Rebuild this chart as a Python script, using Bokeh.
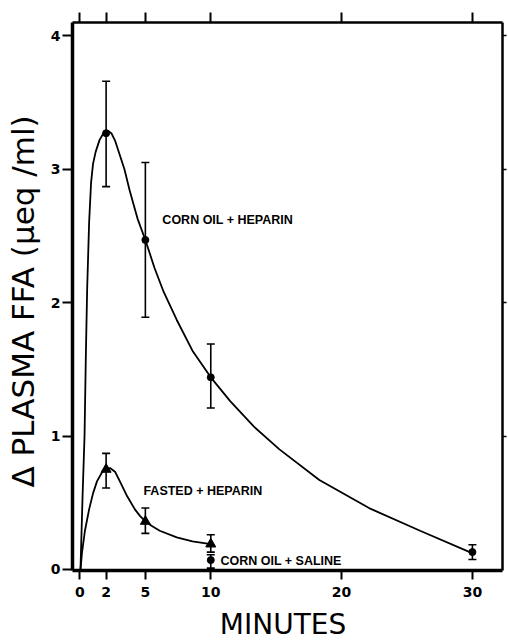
from bokeh.plotting import figure
from bokeh.models import (ColumnDataSource, Whisker, TeeHead, LinearAxis,
                          FixedTicker, Range1d)
from bokeh.embed import file_html
from bokeh.resources import INLINE
from bokeh.core.properties import value

# ---- data ----
minute_ticks = [0, 2, 5, 10, 20, 30]
ffa_ticks = [0, 1, 2, 3, 4]
right_ticks = [1, 2, 3, 4]

# Corn oil + heparin (mean, SE range)
corn_hep_t = [2, 5, 10, 30]
corn_hep_mean = [3.27, 2.47, 1.44, 0.13]
corn_hep_lo = [2.87, 1.89, 1.21, 0.075]
corn_hep_hi = [3.66, 3.05, 1.69, 0.185]

# Fasted + heparin
fasted_t = [2, 5, 10]
fasted_mean = [0.75, 0.36, 0.19]
fasted_lo = [0.61, 0.27, 0.13]
fasted_hi = [0.87, 0.46, 0.26]

# Corn oil + saline
saline_t = [10]
saline_mean = [0.07]
saline_lo = [0.01]
saline_hi = [0.11]

# hand-drawn fitted curves
corn_curve_t = [0.04, 0.2, 0.35, 0.45, 0.55, 0.7, 0.85, 1.0, 1.2, 1.5, 1.8, 2.1,
                2.4, 2.7, 3.0, 3.4, 3.8, 4.4, 5.0, 5.7, 6.4, 7.4, 8.6, 10.0,
                11.5, 13.3, 15.25, 18.3, 22.1, 26.0, 29.8]
corn_curve_v = [0.0, 0.55, 1.0, 1.6, 2.1, 2.6, 2.9, 3.04, 3.13, 3.22, 3.27, 3.29,
                3.27, 3.21, 3.12, 3.0, 2.84, 2.63, 2.47, 2.26, 2.08, 1.87, 1.64, 1.44,
                1.26, 1.07, 0.9, 0.67, 0.46, 0.29, 0.13]

fasted_curve_t = [0.04, 0.15, 0.38, 0.7, 1.0, 1.3, 1.7, 2.0, 2.3, 2.7, 3.1, 3.6,
                  4.2, 4.6, 5.0, 5.5, 6.1, 7.4, 8.6, 10.0]
fasted_curve_v = [0.0, 0.12, 0.29, 0.45, 0.57, 0.66, 0.73, 0.755, 0.76, 0.73, 0.65, 0.55,
                  0.45, 0.40, 0.36, 0.325, 0.29, 0.24, 0.21, 0.19]

label_text = ["CORN OIL + HEPARIN", "FASTED + HEPARIN", "CORN OIL + SALINE"]
label_x = [6.3, 4.85, 10.74]
label_y = [2.62, 0.59, 0.06]

FONT = "DejaVu Sans"

p = figure(width=508, height=644,
           x_range=Range1d(-0.57, 32.3), y_range=Range1d(-0.008, 4.1),
           output_backend="svg", toolbar_location=None,
           min_border_left=72, min_border_top=22, min_border_right=6,
           min_border_bottom=74)
p.outline_line_color = None
p.xgrid.visible = False
p.ygrid.visible = False
p.background_fill_color = "white"

# bottom axis
xa = p.xaxis[0]
xa.ticker = FixedTicker(ticks=minute_ticks)
xa.axis_line_width = 3.5
xa.major_tick_line_width = 2
xa.major_tick_out = 9
xa.major_tick_in = 0
xa.minor_tick_line_color = None
xa.major_label_standoff = 7
xa.major_label_text_font = FONT
xa.major_label_text_font_size = "14px"
xa.major_label_text_font_style = "bold"
xa.major_label_text_color = "black"
xa.axis_label = " MINUTES"
xa.axis_label_text_font = FONT
xa.axis_label_text_font_size = "28px"
xa.axis_label_text_font_style = "normal"
xa.axis_label_text_color = "black"
xa.axis_label_standoff = 8

# left axis
ya = p.yaxis[0]
ya.ticker = FixedTicker(ticks=ffa_ticks)
ya.axis_line_width = 3.5
ya.major_tick_line_width = 2
ya.major_tick_out = 10
ya.major_tick_in = 0
ya.minor_tick_line_color = None
ya.major_label_standoff = 2
ya.major_label_text_font = FONT
ya.major_label_text_font_size = "14px"
ya.major_label_text_font_style = "bold"
ya.major_label_text_color = "black"
ya.axis_label = " \u0394 PLASMA FFA (\u03bceq /ml)"
ya.axis_label_text_font = FONT
ya.axis_label_text_font_size = "31px"
ya.axis_label_text_font_style = "normal"
ya.axis_label_text_color = "black"
ya.axis_label_standoff = 7

# top axis (ticks only)
top = LinearAxis(ticker=FixedTicker(ticks=minute_ticks), axis_line_width=2.5,
                 major_tick_out=10, major_tick_in=0, major_tick_line_width=2,
                 minor_tick_line_color=None, major_label_text_font_size="0px",
                 major_label_text_alpha=0, major_label_standoff=0)
p.add_layout(top, "above")

# right axis (ticks only)
right = LinearAxis(ticker=FixedTicker(ticks=right_ticks), axis_line_width=2.5,
                   major_tick_out=4, major_tick_in=0, major_tick_line_width=1.5,
                   minor_tick_line_color=None, major_label_text_font_size="0px",
                   major_label_text_alpha=0, major_label_standoff=0)
p.add_layout(right, "right")

# curves
p.line(corn_curve_t, corn_curve_v, line_color="black", line_width=1.8)
p.line(fasted_curve_t, fasted_curve_v, line_color="black", line_width=1.8)

# error bars
def add_err(t, lo, hi):
    src = ColumnDataSource(dict(t=t, lo=lo, hi=hi))
    w = Whisker(base="t", lower="lo", upper="hi", source=src,
                line_color="black", line_width=1.6,
                upper_head=TeeHead(size=8, line_width=1.6, line_color="black"),
                lower_head=TeeHead(size=8, line_width=1.6, line_color="black"))
    p.add_layout(w)

add_err(corn_hep_t, corn_hep_lo, corn_hep_hi)
add_err(fasted_t, fasted_lo, fasted_hi)
add_err(saline_t, saline_lo, saline_hi)

# markers
p.scatter(corn_hep_t, corn_hep_mean, marker="circle", size=7, color="black")
p.scatter(fasted_t, fasted_mean, marker="triangle", size=10, color="black")
p.scatter(saline_t, saline_mean, marker="circle", size=7, color="black")

# in-plot labels
p.text(x=label_x, y=label_y, text=label_text, text_font=value("Liberation Sans"),
       text_font_style="bold", text_font_size="12.5px", text_baseline="middle",
       text_align="left", text_color="black")

open("out.html", "w").write(file_html(p, INLINE))
